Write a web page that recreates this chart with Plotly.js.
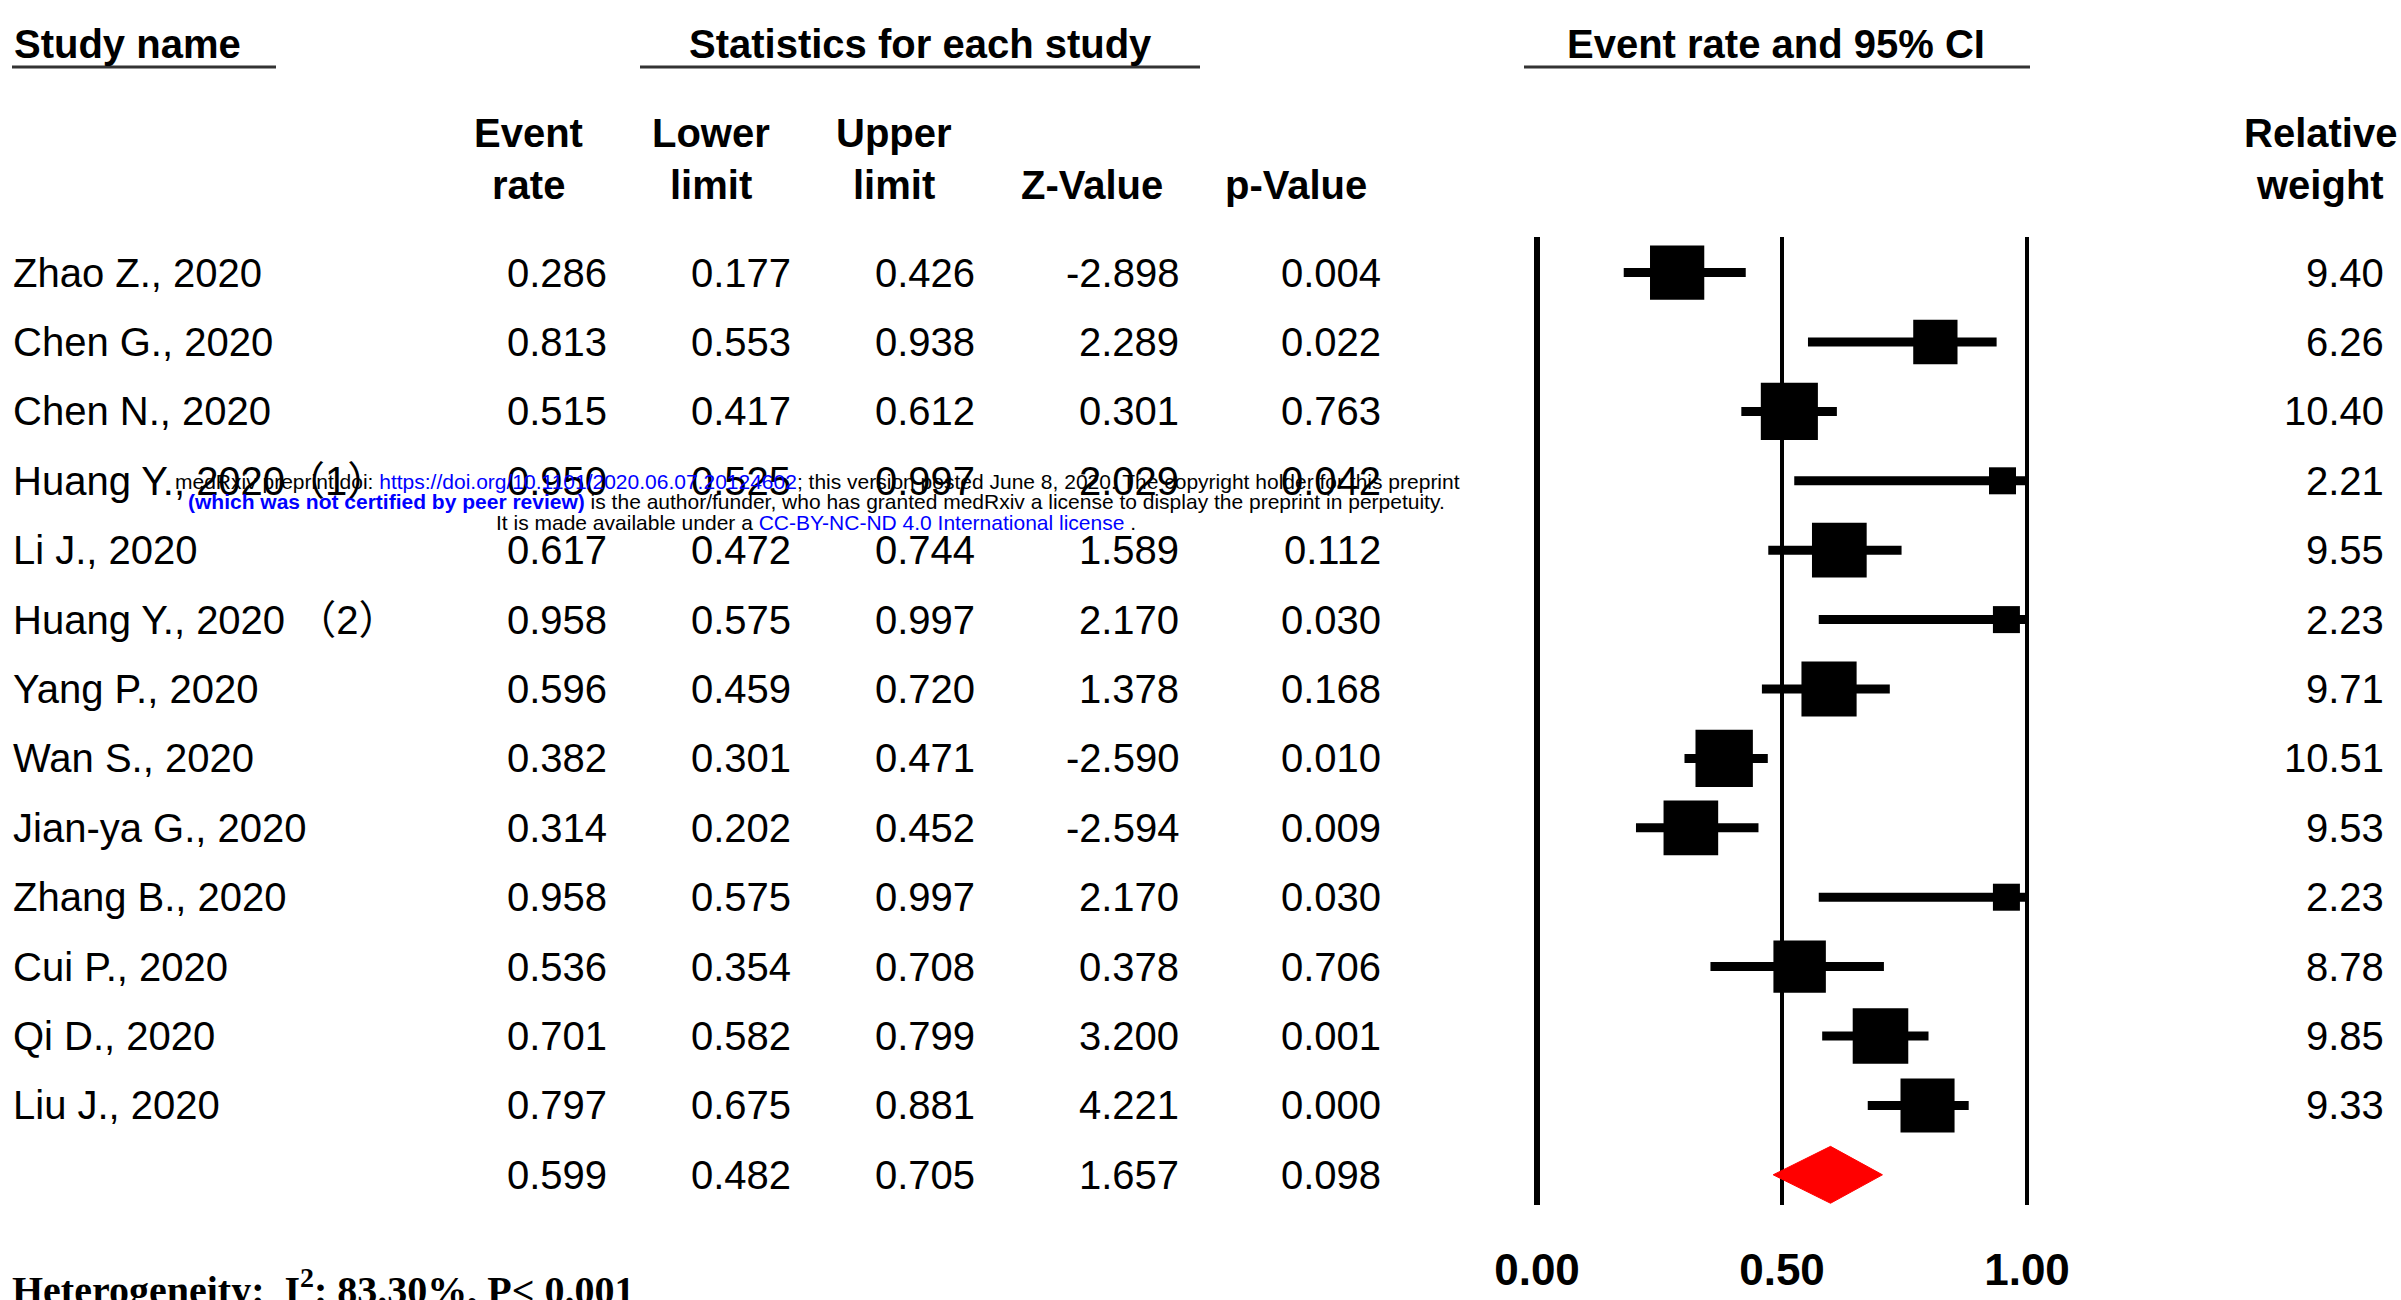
<!DOCTYPE html>
<html><head><meta charset="utf-8">
<script src="https://cdn.plot.ly/plotly-3.0.1.min.js"></script>
<style>html,body{margin:0;padding:0;background:#fff;overflow:hidden}</style>
</head><body><div id="chart" style="width:2401px;height:1300px"></div>
<script>
// ---------- data ----------
const studies = ["Zhao Z., 2020", "Chen G., 2020", "Chen N., 2020", "Huang Y., 2020（1）", "Li J., 2020",
  "Huang Y., 2020 （2）", "Yang P., 2020", "Wan S., 2020", "Jian-ya G., 2020", "Zhang B., 2020",
  "Cui P., 2020", "Qi D., 2020", "Liu J., 2020"];
const eventRate  = [0.286, 0.813, 0.515, 0.950, 0.617, 0.958, 0.596, 0.382, 0.314, 0.958, 0.536, 0.701, 0.797];
const lowerLimit = [0.177, 0.553, 0.417, 0.525, 0.472, 0.575, 0.459, 0.301, 0.202, 0.575, 0.354, 0.582, 0.675];
const upperLimit = [0.426, 0.938, 0.612, 0.997, 0.744, 0.997, 0.720, 0.471, 0.452, 0.997, 0.708, 0.799, 0.881];
const zValue     = [-2.898, 2.289, 0.301, 2.029, 1.589, 2.170, 1.378, -2.590, -2.594, 2.170, 0.378, 3.200, 4.221];
const pValue     = [0.004, 0.022, 0.763, 0.042, 0.112, 0.030, 0.168, 0.010, 0.009, 0.030, 0.706, 0.001, 0.000];
const relWeight  = [9.40, 6.26, 10.40, 2.21, 9.55, 2.23, 9.71, 10.51, 9.53, 2.23, 8.78, 9.85, 9.33];
const summaryRate = 0.599, summaryLower = 0.482, summaryUpper = 0.705, summaryZ = 1.657, summaryP = 0.098;
const tickVals = [0, 0.5, 1];
const tickLabels = ["0.00", "0.50", "1.00"];
const heterogeneity = "Heterogeneity:  I<sup>2</sup>: 83.30%, P< 0.001";

// ---------- layout helpers ----------
const W = 2401, H = 1300;
const px = v => v / W;
const py = v => 1 - v / H;
const SANS = "Liberation Sans, Arial, Noto Sans CJK SC, sans-serif";
const FS = 40;

const nRows = studies.length;
const summaryRow = nRows;

// ---------- traces ----------
const ciX = [], ciY = [];
for (let i = 0; i < nRows; i++) { ciX.push(lowerLimit[i], upperLimit[i], null); ciY.push(i, i, null); }
const ciTrace = { type: "scatter", mode: "lines", x: ciX, y: ciY, line: { color: "#000", width: 9 },
  hoverinfo: "skip", showlegend: false, cliponaxis: false };
const sqTrace = { type: "scatter", mode: "markers", x: eventRate, y: studies.map((s, i) => i),
  marker: { symbol: "square", color: "#000", opacity: 1,
    size: relWeight.map(w => Math.max(27, 17.7 * Math.sqrt(w))), line: { width: 0 } },
  showlegend: false, cliponaxis: false };
const dh = 0.41;
const diamond = { type: "scatter", mode: "lines",
  x: [summaryLower, summaryRate, summaryUpper, summaryRate, summaryLower],
  y: [summaryRow, summaryRow - dh, summaryRow, summaryRow + dh, summaryRow],
  fill: "toself", fillcolor: "#ff0000", line: { color: "#ff0000", width: 1 }, showlegend: false, cliponaxis: false };

// ---------- annotations ----------
const ann = [];
function txt(x, y, text, opts) {
  ann.push(Object.assign({ x: x, y: y, xref: "paper", yref: "paper", text: text, showarrow: false,
    xanchor: "center", yanchor: "middle", font: { family: SANS, size: FS, color: "#000" } }, opts || {}));
}
// headers
txt(px(12), py(44), "<b>Study name</b>", { xanchor: "left" });
txt(px(920), py(44), "<b>Statistics for each study</b>");
txt(px(1776), py(44), "<b>Event rate and 95% CI</b>");
const headerCenters = [528, 711, 894];
const headerTop = ["Event", "Lower", "Upper"];
const headerBottom = ["rate", "limit", "limit", "Z-Value", "p-Value"];
const headerBottomCenters = [528, 711, 894, 1092, 1296];
headerTop.forEach((h, k) => txt(px(headerCenters[k]), py(133), "<b>" + h + "</b>"));
headerBottom.forEach((h, k) => txt(px(headerBottomCenters[k]), py(185), "<b>" + h + "</b>"));
txt(px(2320), py(133), "<b>Relative</b>");
txt(px(2320), py(185), "<b>weight</b>");

// rows
const colRight = [609, 793, 977, 1181, 1383];
function rowText(i, name, vals, w) {
  if (name) ann.push({ x: px(11), y: i, xref: "paper", yref: "y", text: name, showarrow: false,
    xanchor: "left", yanchor: "middle", font: { family: SANS, size: FS, color: "#000" } });
  vals.forEach((v, k) => ann.push({ x: px(colRight[k]), y: i, xref: "paper", yref: "y", text: v, showarrow: false,
    xanchor: "right", yanchor: "middle", font: { family: SANS, size: FS, color: "#000" } }));
  if (w !== null) ann.push({ x: px(2386), y: i, xref: "paper", yref: "y", text: w, showarrow: false,
    xanchor: "right", yanchor: "middle", font: { family: SANS, size: FS, color: "#000" } });
}
for (let i = 0; i < nRows; i++) {
  rowText(i, studies[i], [eventRate[i], lowerLimit[i], upperLimit[i], zValue[i], pValue[i]].map(v => v.toFixed(3)),
    relWeight[i].toFixed(2));
}
rowText(summaryRow, null, [summaryRate, summaryLower, summaryUpper, summaryZ, summaryP].map(v => v.toFixed(3)), null);

// heterogeneity
ann.push({ x: px(10), y: py(1287), xref: "paper", yref: "paper", text: "<b>" + heterogeneity + "</b>", showarrow: false,
  xanchor: "left", yanchor: "middle", font: { family: "Liberation Serif, Times New Roman, serif", size: 40, color: "#000" } });

// medRxiv watermark
const blue = s => '<span style="color:#0000ff">' + s + '</span>';
const wm = { family: SANS, size: 21, color: "#000" };
txt(px(817), py(481), "medRxiv preprint doi: " + blue("https://doi.org/10.1101/2020.06.07.20124602") +
  "; this version posted June 8, 2020. The copyright holder for this preprint", { font: wm });
txt(px(816), py(501), blue("<b>(which was not certified by peer review)</b>") +
  " is the author/funder, who has granted medRxiv a license to display the preprint in perpetuity.", { font: wm });
txt(px(816), py(522), "It is made available under a " + blue("CC-BY-NC-ND 4.0 International license") + " .", { font: wm });

// underlines
const shapes = [
  [12, 276], [640, 1200], [1524, 2030]
].map(s => ({ type: "line", xref: "paper", yref: "paper", x0: px(s[0]), x1: px(s[1]), y0: py(67), y1: py(67),
  line: { color: "#333", width: 3 } }));

const layout = {
  width: W, height: H, margin: { l: 0, r: 0, t: 0, b: 0 }, paper_bgcolor: "#fff", plot_bgcolor: "#fff",
  showlegend: false,
  xaxis: { domain: [px(1488), px(2076)], range: [-0.1, 1.1], tickvals: tickVals,
    ticktext: tickLabels.map(t => "<b>" + t + "</b>"), showgrid: true, gridcolor: "#000", gridwidth: 4,
    zeroline: true, zerolinecolor: "#000", zerolinewidth: 6, showline: false, ticks: "",
    ticklabelstandoff: 35, tickfont: { family: SANS, size: 44, color: "#000" }, fixedrange: true },
  yaxis: { domain: [1 - 1205 / H, 1 - 237 / H], range: [13.435, -0.513], visible: false, fixedrange: true },
  annotations: ann, shapes: shapes
};
Plotly.newPlot("chart", [ciTrace, sqTrace, diamond], layout, { displayModeBar: false, staticPlot: true });
</script></body></html>
